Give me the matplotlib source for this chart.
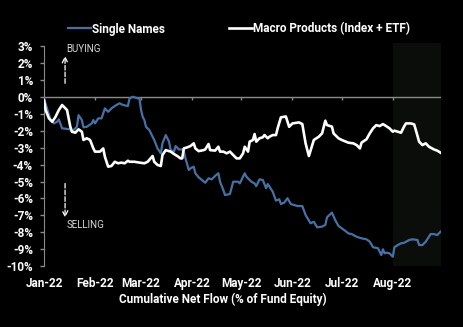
import pandas as pd
import matplotlib
matplotlib.use('Agg')
import matplotlib.pyplot as plt
import matplotlib.dates as mdates

plt.rcParams['font.family'] = ['Roboto', 'DejaVu Sans']

# Days since 2022-01-01 and cumulative net flow (% of fund equity)
single_days = [0, 4, 6, 8, 9, 11, 16, 17, 18, 20, 21, 23, 24, 26, 29, 30, 31, 33, 35, 37,
               39, 41, 44, 46, 48, 51, 52, 54, 57, 58, 59, 60, 61, 62, 64, 67, 69, 71, 72, 74,
               76, 77, 79, 80, 82, 84, 85, 86, 88, 89, 91, 92, 94, 96, 98, 100, 102, 104, 106, 107,
               109, 110, 113, 115, 118, 119, 122, 123, 126, 128, 129, 131, 133, 135, 136, 139, 141, 143, 144, 146,
               148, 150, 154, 157, 159, 162, 164, 166, 169, 171, 172, 175, 177, 179, 181, 183, 185, 187, 190, 193,
               196, 198, 200, 203, 205, 206, 207, 208, 210, 212, 213, 215, 217, 219, 222, 224, 227, 228, 230, 232,
               235, 237, 239, 241]
single_vals = [-0.08, -1.36, -1.56, -1.46, -1.32, -1.85, -1.91, -2.05, -1.95, -1.76, -1.07, -1.36, -1.79, -1.76, -1.56, -1.36, -1.56, -1.26, -1.26, -0.67,
               -0.87, -0.67, -0.47, -0.37, -0.47, -0.53, -0.08, 0.02, -0.08, -0.08, -0.77, -1.17, -1.36, -1.76, -1.95, -2.54, -3.04, -3.33, -2.74, -2.25,
               -2.64, -3.14, -3.23, -2.90, -3.10, -3.10, -3.23, -3.63, -4.32, -4.22, -4.12, -4.51, -4.75, -4.91, -5.07, -4.81, -4.87, -4.67, -4.51, -5.01,
               -5.50, -5.80, -5.74, -5.01, -5.01, -5.11, -4.51, -4.71, -5.01, -5.11, -5.27, -4.87, -4.91, -5.40, -5.15, -5.60, -6.13, -6.05, -6.33, -6.25,
               -5.99, -6.33, -6.45, -6.45, -6.98, -7.47, -7.38, -7.71, -7.67, -7.57, -7.12, -6.84, -7.28, -7.63, -7.77, -7.91, -8.07, -8.11, -8.27, -8.36,
               -8.42, -8.56, -8.89, -8.95, -9.35, -9.01, -9.25, -9.21, -9.25, -9.45, -8.89, -8.76, -8.66, -8.62, -8.46, -8.42, -8.46, -8.76, -8.76, -8.56,
               -8.11, -8.11, -8.17, -7.97]

macro_days = [0, 1, 3, 5, 7, 9, 11, 13, 14, 16, 17, 19, 21, 23, 24, 26, 28, 30, 31, 34,
              36, 37, 39, 41, 43, 45, 47, 49, 51, 52, 55, 58, 61, 63, 66, 67, 69, 71, 72, 74,
              77, 79, 81, 83, 84, 85, 87, 89, 91, 92, 94, 97, 98, 100, 101, 104, 106, 107, 109, 111,
              113, 115, 117, 119, 121, 122, 124, 125, 127, 128, 129, 131, 133, 134, 136, 137, 139, 141, 142, 144,
              147, 149, 151, 155, 157, 159, 161, 164, 167, 169, 171, 172, 175, 176, 179, 181, 185, 188, 190, 192,
              193, 196, 198, 200, 202, 204, 206, 208, 210, 212, 213, 217, 219, 220, 223, 225, 226, 228, 230, 232,
              234, 237, 239, 241]
macro_vals = [-0.18, -0.77, -1.26, -1.46, -1.17, -0.77, -0.47, -0.67, -0.77, -1.76, -2.05, -2.11, -1.91, -2.05, -2.54, -2.44, -2.54, -3.04, -3.23, -3.23,
              -3.04, -3.53, -4.12, -4.08, -3.83, -3.92, -3.88, -3.92, -3.77, -3.83, -3.83, -3.88, -3.92, -3.83, -3.49, -3.83, -4.02, -4.08, -3.43, -3.14,
              -3.23, -3.37, -3.49, -3.63, -3.63, -3.04, -2.98, -2.90, -2.74, -3.04, -3.20, -3.14, -3.10, -2.78, -3.14, -3.17, -2.94, -3.23, -3.23, -3.33,
              -3.23, -3.43, -3.63, -3.63, -3.33, -2.94, -3.23, -2.64, -2.54, -2.19, -2.64, -2.44, -2.38, -2.25, -2.44, -2.35, -2.25, -2.25, -1.85, -1.20,
              -1.15, -1.76, -1.56, -1.50, -1.60, -2.74, -3.49, -2.54, -2.35, -2.15, -1.40, -1.66, -1.75, -2.15, -2.44, -2.54, -2.70, -2.74, -2.84, -3.04,
              -2.70, -2.50, -2.15, -1.85, -1.66, -1.72, -1.60, -1.72, -1.85, -2.05, -1.99, -2.11, -1.72, -1.56, -1.56, -1.62, -1.95, -2.64, -2.84, -2.74,
              -2.94, -3.10, -3.17, -3.29]

y_ticks = list(range(-10, 4))
month_starts = pd.date_range('2022-01-01', '2022-08-01', freq='MS')

start = pd.Timestamp('2022-01-01')
single_dates = start + pd.to_timedelta(single_days, unit='D')
macro_dates = start + pd.to_timedelta(macro_days, unit='D')

grey = '#8a8a8a'
blue = '#4671a5'

fig = plt.figure(figsize=(4.64, 3.27), dpi=100, facecolor='black')
ax = fig.add_axes([44 / 464, 1 - 266 / 327, 397 / 464, 223 / 327])
ax.set_facecolor('black')

end = start + pd.Timedelta(days=241.3)
# shaded last month
ax.axvspan(pd.Timestamp('2022-08-01'), end, color='#0b0d0b', zorder=0)

ax.axhline(0, color=grey, lw=1, zorder=1)
ax.vlines(month_starts[1:], -0.2, 0, color=grey, lw=1, zorder=1)

ax.plot(single_dates, single_vals, color=blue, lw=1.6, label='Single Names', zorder=3)
ax.plot(macro_dates, macro_vals, color='white', lw=1.9, label='Macro Products (Index + ETF)', zorder=3)

ax.set_xlim(start, end)
ax.set_ylim(-10, 3.2)
ax.set_yticks(y_ticks)
ax.set_yticklabels([f'{t}%' for t in y_ticks])
ax.set_xticks(month_starts)
ax.xaxis.set_major_formatter(mdates.DateFormatter('%b-%y'))

for s in ['top', 'right', 'bottom']:
    ax.spines[s].set_visible(False)
ax.spines['left'].set_color(grey)
ax.spines['left'].set_bounds(-10, 3)
ax.tick_params(axis='y', colors=grey, length=3, width=1, pad=5)
ax.tick_params(axis='x', length=0, pad=8)
for lab in ax.get_yticklabels() + ax.get_xticklabels():
    lab.set_color('white')
    lab.set_fontweight('bold')
    lab.set_fontsize(8.5)

# buying / selling arrows
arrow_x = start + pd.Timedelta(days=12.8)
ax.annotate('', xy=(arrow_x, 2.6), xytext=(arrow_x, 0.65),
            arrowprops=dict(arrowstyle='->', color='white', lw=0.9, linestyle='--'))
ax.annotate('', xy=(arrow_x, -7.3), xytext=(arrow_x, -4.95),
            arrowprops=dict(arrowstyle='->', color='white', lw=0.9, linestyle='--'))
ax.text(start + pd.Timedelta(days=13.5), 2.85, 'BUYING', color='#d8d8d8', fontsize=7,
        va='center', ha='left')
ax.text(start + pd.Timedelta(days=13.5), -7.6, 'SELLING', color='#d8d8d8', fontsize=7,
        va='center', ha='left')

leg = fig.legend(loc='center left', bbox_to_anchor=(68 / 464, 1 - 29 / 327), ncol=2,
                 frameon=False, borderpad=0, borderaxespad=0, handlelength=1.95,
                 handletextpad=0.1, columnspacing=5.4, prop={'weight': 'bold', 'size': 8.5})
for t in leg.get_texts():
    t.set_color('white')

fig.text(223 / 464, 1 - 299 / 327, 'Cumulative Net Flow (% of Fund Equity)', color='white',
         fontsize=8.5, fontweight='bold', ha='center', va='center')

plt.savefig('out.png', dpi=100, facecolor='black')
